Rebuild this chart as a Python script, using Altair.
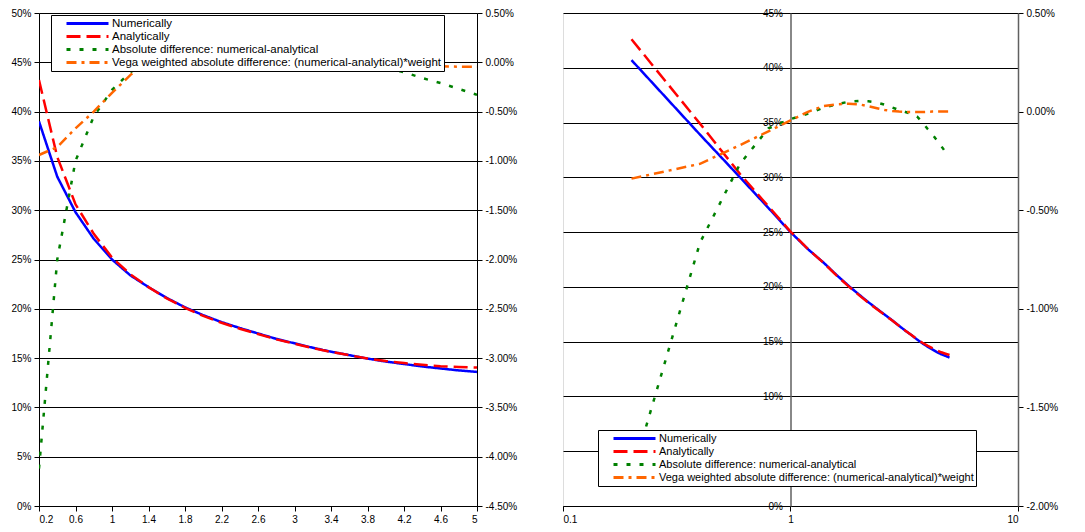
import altair as alt
import pandas as pd

# ---------------- data ----------------
x_vals = [0.2, 0.4, 0.6, 0.8, 1.0, 1.2, 1.4, 1.6, 1.8, 2.0, 2.2, 2.4, 2.6,
          2.8, 3.0, 3.2, 3.4, 3.6, 3.8, 4.0, 4.2, 4.4, 4.6, 4.8, 5.0]

series_names = [
    "Numerically",
    "Analytically",
    "Absolute difference: numerical-analytical",
    "Vega weighted absolute difference: (numerical-analytical)*weight",
]

# left panel (linear strike axis), values in percent
left_numerical = [39.0, 33.4, 29.8, 27.1, 25.0, 23.4, 22.2, 21.1, 20.15, 19.35,
                  18.65, 18.05, 17.5, 16.95, 16.5, 16.05, 15.65, 15.3, 14.95,
                  14.65, 14.4, 14.15, 13.95, 13.75, 13.6]
left_analytical = [43.2, 35.4, 30.6, 27.6, 25.2, 23.5, 22.2, 21.05, 20.1, 19.28,
                   18.58, 17.98, 17.44, 16.9, 16.46, 16.02, 15.63, 15.29, 14.96,
                   14.7, 14.5, 14.32, 14.17, 14.1, 14.05]
left_abs_diff = [-4.12, -2.0, -1.0, -0.55, -0.28, -0.10, 0.0, 0.04, 0.06, 0.07,
                 0.07, 0.07, 0.06, 0.05, 0.04, 0.03, 0.02, 0.01, -0.01, -0.055,
                 -0.10, -0.16, -0.21, -0.27, -0.33]
left_vega_diff = [-0.94, -0.86, -0.67, -0.50, -0.31, -0.13, 0.01, 0.06, 0.08, 0.09,
                  0.09, 0.08, 0.07, 0.06, 0.04, 0.03, 0.01, 0.0, -0.02, -0.03,
                  -0.035, -0.04, -0.04, -0.045, -0.045]

# right panel (log strike axis), values in percent
right_numerical = [40.7, 33.9, 30.0, 27.2, 25.0, 23.4, 22.2, 21.05, 20.1, 19.3,
                   18.6, 18.0, 17.45, 16.95, 16.45, 16.0, 15.6, 15.2, 14.85,
                   14.55, 14.3, 14.05, 13.85, 13.7, 13.55]
right_analytical = [42.6, 34.9, 30.3, 27.35, 25.05, 23.41, 22.18, 21.01, 20.05,
                    19.25, 18.55, 17.95, 17.42, 16.93, 16.44, 16.0, 15.61, 15.23,
                    14.9, 14.64, 14.42, 14.2, 14.03, 13.9, 13.78]
right_abs_diff = [-1.85, -0.665, -0.265, -0.085, -0.038, -0.01, 0.02, 0.038, 0.05,
                  0.054, 0.052, 0.046, 0.035, 0.021, 0.008, -0.002, -0.012, -0.025,
                  -0.055, -0.087, -0.115, -0.145, -0.175, -0.205, -0.225]
right_vega_diff = [-0.34, -0.265, -0.17, -0.10, -0.045, 0.0, 0.028, 0.037, 0.040,
                   0.037, 0.027, 0.017, 0.008, 0.003, 0.0, -0.002, -0.002, -0.002,
                   -0.002, -0.001, 0.0, 0.0, 0.0, 0.0, 0.0]

left_pct_ticks = [0.0, 0.05, 0.10, 0.15, 0.20, 0.25, 0.30, 0.35, 0.40, 0.45, 0.50]
left_diff_ticks = [-0.045, -0.04, -0.035, -0.03, -0.025, -0.02, -0.015, -0.01,
                   -0.005, 0.0, 0.005]
left_x_ticks = [0.2, 0.6, 1.0, 1.4, 1.8, 2.2, 2.6, 3.0, 3.4, 3.8, 4.2, 4.6, 5.0]
right_pct_ticks = [0.0, 0.05, 0.10, 0.15, 0.20, 0.25, 0.30, 0.35, 0.40, 0.45]
right_diff_ticks = [-0.02, -0.015, -0.01, -0.005, 0.0, 0.005]
right_x_ticks = [0.1, 1, 10]

colors = ["#0000FF", "#FF0000", "#008000", "#FF6600"]
dashes = [[1, 0], [14, 6], [4, 9], [10, 5, 3, 5]]

FONT = "Liberation Sans"


def long_table(num, ana, dif, veg):
    rows = []
    for vals, name, side in [(num, series_names[0], "L"), (ana, series_names[1], "L"),
                             (dif, series_names[2], "R"), (veg, series_names[3], "R")]:
        for xv, v in zip(x_vals, vals):
            rows.append({"x": xv, "v": v / 100.0, "series": name, "side": side})
    return pd.DataFrame(rows)


def legend(lx, ly, fs):
    return alt.Legend(
        title=None, orient="none", legendX=lx, legendY=ly,
        fillColor="white", strokeColor="black", padding=2, cornerRadius=0,
        symbolType="M-4.2,0H4.2", symbolSize=100, symbolStrokeWidth=3,
        symbolOffset=28, labelFont=FONT, labelFontSize=fs, labelColor="black",
        labelOffset=18, labelLimit=500, rowPadding=-2.6,
    )


def panel(df, xscale, xaxis, lscale, laxis, rscale, raxis, leg, width):
    base = alt.Chart(df).encode(
        x=alt.X("x:Q", scale=xscale, axis=xaxis),
        color=alt.Color("series:N", scale=alt.Scale(domain=series_names, range=colors),
                        legend=leg),
        strokeDash=alt.StrokeDash("series:N",
                                  scale=alt.Scale(domain=series_names, range=dashes),
                                  legend=leg),
    )
    left = base.transform_filter(alt.datum.side == "L").mark_line(
        strokeWidth=2.5, clip=True).encode(
        y=alt.Y("v:Q", scale=lscale, axis=laxis))
    right = base.transform_filter(alt.datum.side == "R").mark_line(
        strokeWidth=2.5, clip=True).encode(
        y=alt.Y("v:Q", scale=rscale, axis=raxis))
    return alt.layer(left, right).resolve_scale(y="independent").properties(
        width=width, height=493)


axis_common = dict(labelFont=FONT, labelFontSize=10, labelColor="black",
                   tickColor="black", tickSize=5, labelPadding=3, title=None)

neg_fix = "replace(format(datum.value, '.2%'), '\u2212', '-')"

# ---- left panel ----
df_left = long_table(left_numerical, left_analytical, left_abs_diff, left_vega_diff)
left_panel = panel(
    df_left,
    alt.Scale(domain=[0.2, 5.0], nice=False, zero=False),
    alt.Axis(values=left_x_ticks, format="~g", grid=False, domainColor="black",
             **axis_common),
    alt.Scale(domain=[0.0, 0.5], nice=False),
    alt.Axis(values=left_pct_ticks, format=".0%", grid=True, gridColor="black",
             gridOpacity=1, gridWidth=1, domainColor="black", **axis_common),
    alt.Scale(domain=[-0.045, 0.005], nice=False, zero=False),
    alt.Axis(orient="right", values=left_diff_ticks, labelExpr=neg_fix, grid=False,
             domainColor="black", **axis_common),
    legend(12, 2, 11.5),
    438,
)

# ---- right panel ----
df_right = long_table(right_numerical, right_analytical, right_abs_diff, right_vega_diff)
right_panel = panel(
    df_right,
    alt.Scale(type="log", domain=[0.1, 10], nice=False),
    alt.Axis(values=right_x_ticks, format="~g", grid=False, domainColor="black",
             **axis_common),
    alt.Scale(domain=[0.0, 0.45], nice=False),
    alt.Axis(values=right_pct_ticks, format=".0%", grid=True, gridColor="black",
             gridOpacity=1, gridWidth=1, offset=-227.5, domainColor="#606060",
             domainWidth=1.5, **axis_common),
    alt.Scale(domain=[-0.02, 0.005], nice=False, zero=False),
    alt.Axis(orient="right", values=right_diff_ticks, labelExpr=neg_fix, grid=False,
             domainColor="#606060", domainWidth=1.5, **axis_common),
    legend(35, 417, 11),
    455,
)

chart = alt.hconcat(left_panel, right_panel, spacing=44).resolve_scale(
    color="independent", strokeDash="independent"
).resolve_legend(
    color="independent", strokeDash="independent"
).properties(
    padding={"left": 2, "top": -1, "right": 0, "bottom": 0}
).configure_view(stroke=None).configure(background="white")

chart.save("out.html", embed_options={"renderer": "svg", "actions": False})
